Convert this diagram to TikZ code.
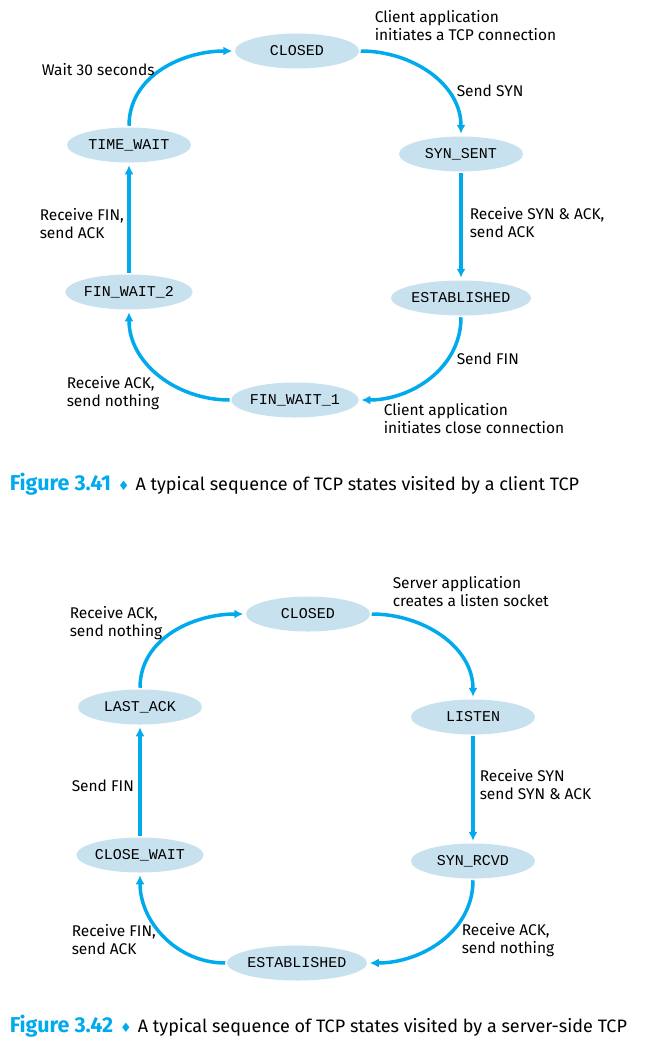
\documentclass[tikz,border=0pt]{standalone}
\usepackage{fontspec}
\setmainfont{Fira Sans}
\setmonofont{Liberation Mono}
\newfontfamily\symfont{DejaVu Sans}
\usepackage{tikz}
\usetikzlibrary{arrows.meta,shapes.geometric}

\definecolor{tcpblue}{RGB}{0,170,236}
\definecolor{statefill}{RGB}{200,225,238}

\newcommand{\fignum}[1]{\textcolor{tcpblue}{\fontsize{21.5}{22}\selectfont\bfseries Figure #1}%
  \hspace{7pt}\textcolor{tcpblue}{\symfont\fontsize{13}{14}\selectfont ♦}\hspace{6pt}}

\tikzset{
  state/.style={ellipse,fill=statefill,minimum width=124pt,minimum height=35pt,
    inner sep=0pt,font=\ttfamily\fontsize{15}{16}\selectfont},
  lbl/.style={anchor=west,align=left,inner sep=0pt,font=\fontsize{15.5}{18}\selectfont},
  caption/.style={anchor=base west,inner sep=0pt,font=\fontsize{18}{22}\selectfont}
}

\begin{document}
\begin{tikzpicture}[x=1pt,y=-1pt,>={Latex[length=9pt,width=9pt]},shorten >=1pt,
    line width=3.5pt,draw=tcpblue]
  \useasboundingbox (0,0) rectangle (649,1044);

  % client side
  \node[state] (closed)   at (297,51)  {CLOSED};
  \node[state] (synsent)  at (461,154) {SYN\_SENT};
  \node[state] (estab)    at (461,298) {ESTABLISHED};
  \node[state] (finwaita) at (295,400) {FIN\_WAIT\_1};
  \node[state] (finwaitb) at (129,292) {FIN\_WAIT\_2};
  \node[state] (timewait) at (129,145) {TIME\_WAIT};

  \path[->,tcpblue] (timewait) edge [out=90,in=180]  (closed.west)
            (closed.east)      edge [out=0,in=90]    (synsent)
            (synsent)          edge                  (estab)
            (estab)            edge [out=-90,in=0]   (finwaita.east)
            (finwaita.west)    edge [out=180,in=-90] (finwaitb)
            (finwaitb)         edge                  (timewait);

  \node[lbl] (conn)  at (373,26)  {Client application\\initiates a TCP connection};
  \node[lbl] (wait)  at (40,70)   {Wait 30 seconds};
  \node[lbl] (ssyn)  at (455,91)  {Send SYN};
  \node[lbl] (rsyn)  at (468,223) {Receive SYN \& ACK,\\send ACK};
  \node[lbl] (sfin)  at (455,359) {Send FIN};
  \node[lbl] (close) at (382,419) {Client application\\initiates close connection};
  \node[lbl] (rack)  at (65,393)  {Receive ACK,\\send nothing};
  \node[lbl] (rfin)  at (38,224)  {Receive FIN,\\send ACK};

  \node[caption] (capa) at (8,490) {\fignum{3.41}A typical sequence of TCP states visited by a client TCP};

  % server side
  \node[state] (sclosed)  at (308,614) {CLOSED};
  \node[state] (listen)   at (473,717) {LISTEN};
  \node[state] (synrcvd)  at (473,861) {SYN\_RCVD};
  \node[state] (sestab)   at (297,963) {ESTABLISHED};
  \node[state] (closewait) at (140,855) {CLOSE\_WAIT};
  \node[state] (lastack)  at (140,707) {LAST\_ACK};

  \path[->,tcpblue] (lastack) edge [out=90,in=180]   (sclosed.west)
            (sclosed.east)     edge [out=0,in=90]    (listen)
            (listen)           edge                  (synrcvd)
            (synrcvd)          edge [out=-90,in=0]   (sestab.east)
            (sestab.west)      edge [out=180,in=-90] (closewait)
            (closewait)        edge                  (lastack);

  \node[lbl] (socket) at (391,592) {Server application\\creates a listen socket};
  \node[lbl] (sracka) at (68,623)  {Receive ACK,\\send nothing};
  \node[lbl] (srsyn)  at (478,785) {Receive SYN\\send SYN \& ACK};
  \node[lbl] (ssfin)  at (70,786)  {Send FIN};
  \node[lbl] (srfin)  at (70,940)  {Receive FIN,\\send ACK};
  \node[lbl] (srackb) at (460,940) {Receive ACK,\\send nothing};

  \node[caption] (capb) at (8,1032) {\fignum{3.42}A typical sequence of TCP states visited by a server-side TCP};
\end{tikzpicture}
\end{document}
